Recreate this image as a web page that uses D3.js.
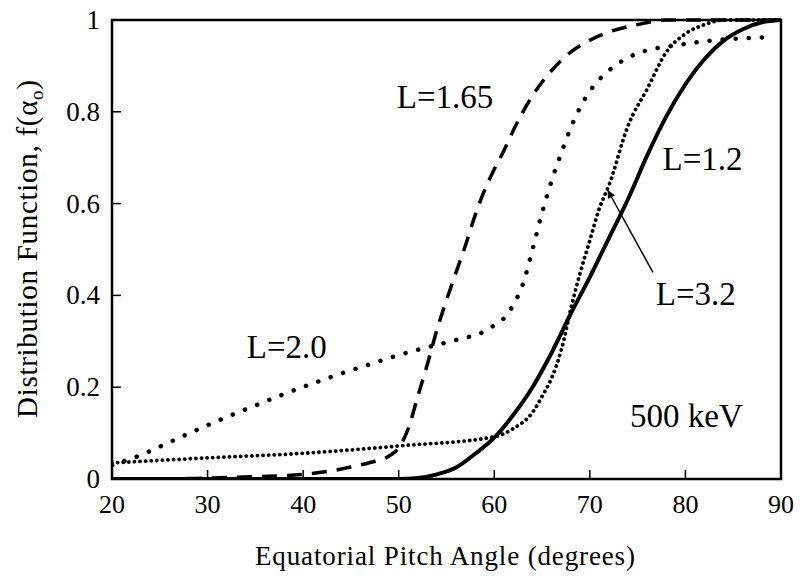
<!DOCTYPE html>
<html lang="en">
<head>
  <meta charset="UTF-8" />
  <title>Distribution Function vs Equatorial Pitch Angle</title>
  <script src="https://cdnjs.cloudflare.com/ajax/libs/d3/7.8.4/d3.min.js"></script>
  <style>
    body {
      margin: 0;
      padding: 0;
      background-color: #fff;
      overflow: hidden;
    }
    svg {
      display: block;
    }
    svg text {
      font-family: "Liberation Serif", serif;
      fill: #000;
    }
    .frame {
      fill: none;
      stroke: #000;
      stroke-width: 2.5px;
    }
    .tick-line {
      stroke: #000;
      stroke-width: 1.5px;
    }
    .curve {
      fill: none;
      stroke: #000;
    }
  </style>
</head>
<body>
  <svg width="800" height="577"></svg>
  <script>
    // ticks
    const xTicks = [20, 30, 40, 50, 60, 70, 80, 90];
    const yTicks = [0, 0.2, 0.4, 0.6, 0.8, 1];
    const yTickLabels = ["0", "0.2", "0.4", "0.6", "0.8", "1"];

    // curves: [pitch angle (deg), f]
    const curveL12 = [
      [20, 0], [50, 0], [52, 0.002], [54, 0.01], [56, 0.025], [58, 0.055],
      [60, 0.09], [62, 0.14], [64, 0.2], [66, 0.275], [68, 0.36], [70, 0.44],
      [72, 0.525], [74, 0.61], [76, 0.705], [78, 0.79], [80, 0.86], [82, 0.915],
      [84, 0.955], [86, 0.98], [88, 0.995], [90, 1]
    ];
    const curveL165 = [
      [20, 0], [25, 0], [30, 0.002], [35, 0.005], [40, 0.01], [43, 0.018],
      [45, 0.026], [47, 0.036], [49, 0.05], [50, 0.068], [51, 0.11], [52, 0.18],
      [53, 0.25], [54, 0.325], [55, 0.39], [56, 0.45], [57, 0.51], [58, 0.575],
      [59, 0.63], [60, 0.675], [61, 0.715], [62, 0.76], [63, 0.8], [64, 0.835],
      [66, 0.89], [68, 0.93], [70, 0.956], [72, 0.974], [75, 0.99], [78, 1], [90, 1]
    ];
    const curveL20 = [
      [20, 0.03], [23, 0.052], [26, 0.08], [29, 0.108], [32, 0.135], [35, 0.16],
      [38, 0.185], [41, 0.208], [44, 0.23], [47, 0.25], [50, 0.27], [53, 0.287],
      [56, 0.303], [59, 0.322], [60, 0.335], [61, 0.35], [62, 0.38], [63, 0.425],
      [64, 0.5], [65, 0.58], [66, 0.65], [67, 0.71], [68, 0.765], [69, 0.81],
      [70, 0.845], [72, 0.89], [74, 0.918], [76, 0.934], [78, 0.942], [80, 0.948],
      [83, 0.956], [86, 0.96], [89, 0.963]
    ];
    const curveL32 = [
      [20, 0.035], [30, 0.046], [40, 0.056], [50, 0.072], [60, 0.092], [62, 0.11],
      [64, 0.145], [65, 0.18], [66, 0.22], [67, 0.28], [68, 0.37], [69, 0.45],
      [70, 0.52], [71, 0.59], [72, 0.64], [74, 0.77], [76, 0.85], [78, 0.93],
      [80, 0.97], [82, 0.99], [84, 1], [90, 1]
    ];

    // curve labels: [text, angle, f] (left/baseline anchor)
    const curveLabels = [
      ["L=1.65", 49.8, 0.808],
      ["L=1.2", 77.6, 0.673],
      ["L=3.2", 76.9, 0.379],
      ["L=2.0", 34.1, 0.264],
      ["500 keV", 74.2, 0.113]
    ];
    // arrow from the L=3.2 label to its curve: [from, to]
    const arrowL32 = [[76.6, 0.45], [71.9, 0.628]];

    const width = 800;
    const height = 577;
    const margin = { top: 20, right: 19, bottom: 98, left: 112 };
    const serif = "Liberation Serif";

    const svg = d3.select("svg");

    const x = d3.scaleLinear().domain([20, 90]).range([margin.left, width - margin.right]);
    const y = d3.scaleLinear().domain([0, 1]).range([height - margin.bottom, margin.top]);

    const defs = svg.append("defs");
    defs.append("marker")
      .attr("id", "arrowhead")
      .attr("viewBox", "0 0 10 10")
      .attr("refX", 9)
      .attr("refY", 5)
      .attr("markerWidth", 11)
      .attr("markerHeight", 8)
      .attr("markerUnits", "userSpaceOnUse")
      .attr("orient", "auto")
      .append("path")
      .attr("d", "M0,0 L10,5 L0,10 z")
      .attr("fill", "#000");

    // clip the curves to the plot box
    defs.append("clipPath")
      .attr("id", "plot-clip")
      .append("rect")
      .attr("x", x(20))
      .attr("y", y(1) - 2)
      .attr("width", x(90) - x(20))
      .attr("height", y(0) - y(1) + 2);

    const line = d3.line()
      .x(d => x(d[0]))
      .y(d => y(d[1]))
      .curve(d3.curveMonotoneX);

    const plot = svg.append("g").attr("clip-path", "url(#plot-clip)");

    plot.append("path")
      .datum(curveL12)
      .attr("class", "curve")
      .attr("stroke-width", 4)
      .attr("d", line);

    plot.append("path")
      .datum(curveL165)
      .attr("class", "curve")
      .attr("stroke-width", 3.5)
      .attr("stroke-dasharray", "15 10")
      .attr("d", line);

    plot.append("path")
      .datum(curveL20)
      .attr("class", "curve")
      .attr("stroke-width", 4.5)
      .attr("stroke-linecap", "round")
      .attr("stroke-dasharray", "0.1 13")
      .attr("d", line);

    plot.append("path")
      .datum(curveL32)
      .attr("class", "curve")
      .attr("stroke-width", 3.8)
      .attr("stroke-linecap", "round")
      .attr("stroke-dasharray", "0.1 5.5")
      .attr("d", line);

    // frame
    svg.append("rect")
      .attr("class", "frame")
      .attr("x", x(20))
      .attr("y", y(1))
      .attr("width", x(90) - x(20))
      .attr("height", y(0) - y(1));

    // inward ticks
    svg.selectAll(".xtick")
      .data(xTicks.slice(1, -1))
      .enter()
      .append("line")
      .attr("class", "tick-line")
      .attr("x1", d => x(d))
      .attr("x2", d => x(d))
      .attr("y1", y(0))
      .attr("y2", y(0) - 9);

    svg.selectAll(".ytick")
      .data(yTicks.slice(1, -1))
      .enter()
      .append("line")
      .attr("class", "tick-line")
      .attr("x1", x(20))
      .attr("x2", x(20) + 9)
      .attr("y1", d => y(d))
      .attr("y2", d => y(d));

    // tick labels
    svg.selectAll(".xlabel")
      .data(xTicks)
      .enter()
      .append("text")
      .attr("x", d => x(d))
      .attr("y", y(0) + 34)
      .attr("text-anchor", "middle")
      .attr("font-family", serif)
      .attr("font-size", 26)
      .text(d => d);

    svg.selectAll(".ylabel")
      .data(yTicks)
      .enter()
      .append("text")
      .attr("x", x(20) - 12)
      .attr("y", d => y(d) + 9)
      .attr("text-anchor", "end")
      .attr("font-family", serif)
      .attr("font-size", 27)
      .text((d, i) => yTickLabels[i]);

    // axis titles
    svg.append("text")
      .attr("x", 445)
      .attr("y", 565)
      .attr("text-anchor", "middle")
      .attr("font-family", serif)
      .attr("font-size", 27)
      .attr("textLength", 380)
      .attr("lengthAdjust", "spacing")
      .text("Equatorial Pitch Angle (degrees)");

    const yTitle = svg.append("text")
      .attr("transform", "translate(37," + 249 + ") rotate(-90)")
      .attr("text-anchor", "middle")
      .attr("font-family", serif)
      .attr("font-size", 29)
      .attr("textLength", 338)
      .attr("lengthAdjust", "spacing");
    yTitle.append("tspan").text("Distribution Function, f(α");
    yTitle.append("tspan").attr("font-size", 19).attr("dy", 6).text("o");
    yTitle.append("tspan").attr("dy", -6).text(")");

    // curve labels
    svg.selectAll(".clabel")
      .data(curveLabels)
      .enter()
      .append("text")
      .attr("x", d => x(d[1]))
      .attr("y", d => y(d[2]))
      .attr("font-family", serif)
      .attr("font-size", 33)
      .text(d => d[0]);

    svg.append("line")
      .attr("x1", x(arrowL32[0][0]))
      .attr("y1", y(arrowL32[0][1]))
      .attr("x2", x(arrowL32[1][0]))
      .attr("y2", y(arrowL32[1][1]))
      .attr("stroke", "#000")
      .attr("stroke-width", 1.5)
      .attr("marker-end", "url(#arrowhead)");
  </script>
</body>
</html>
